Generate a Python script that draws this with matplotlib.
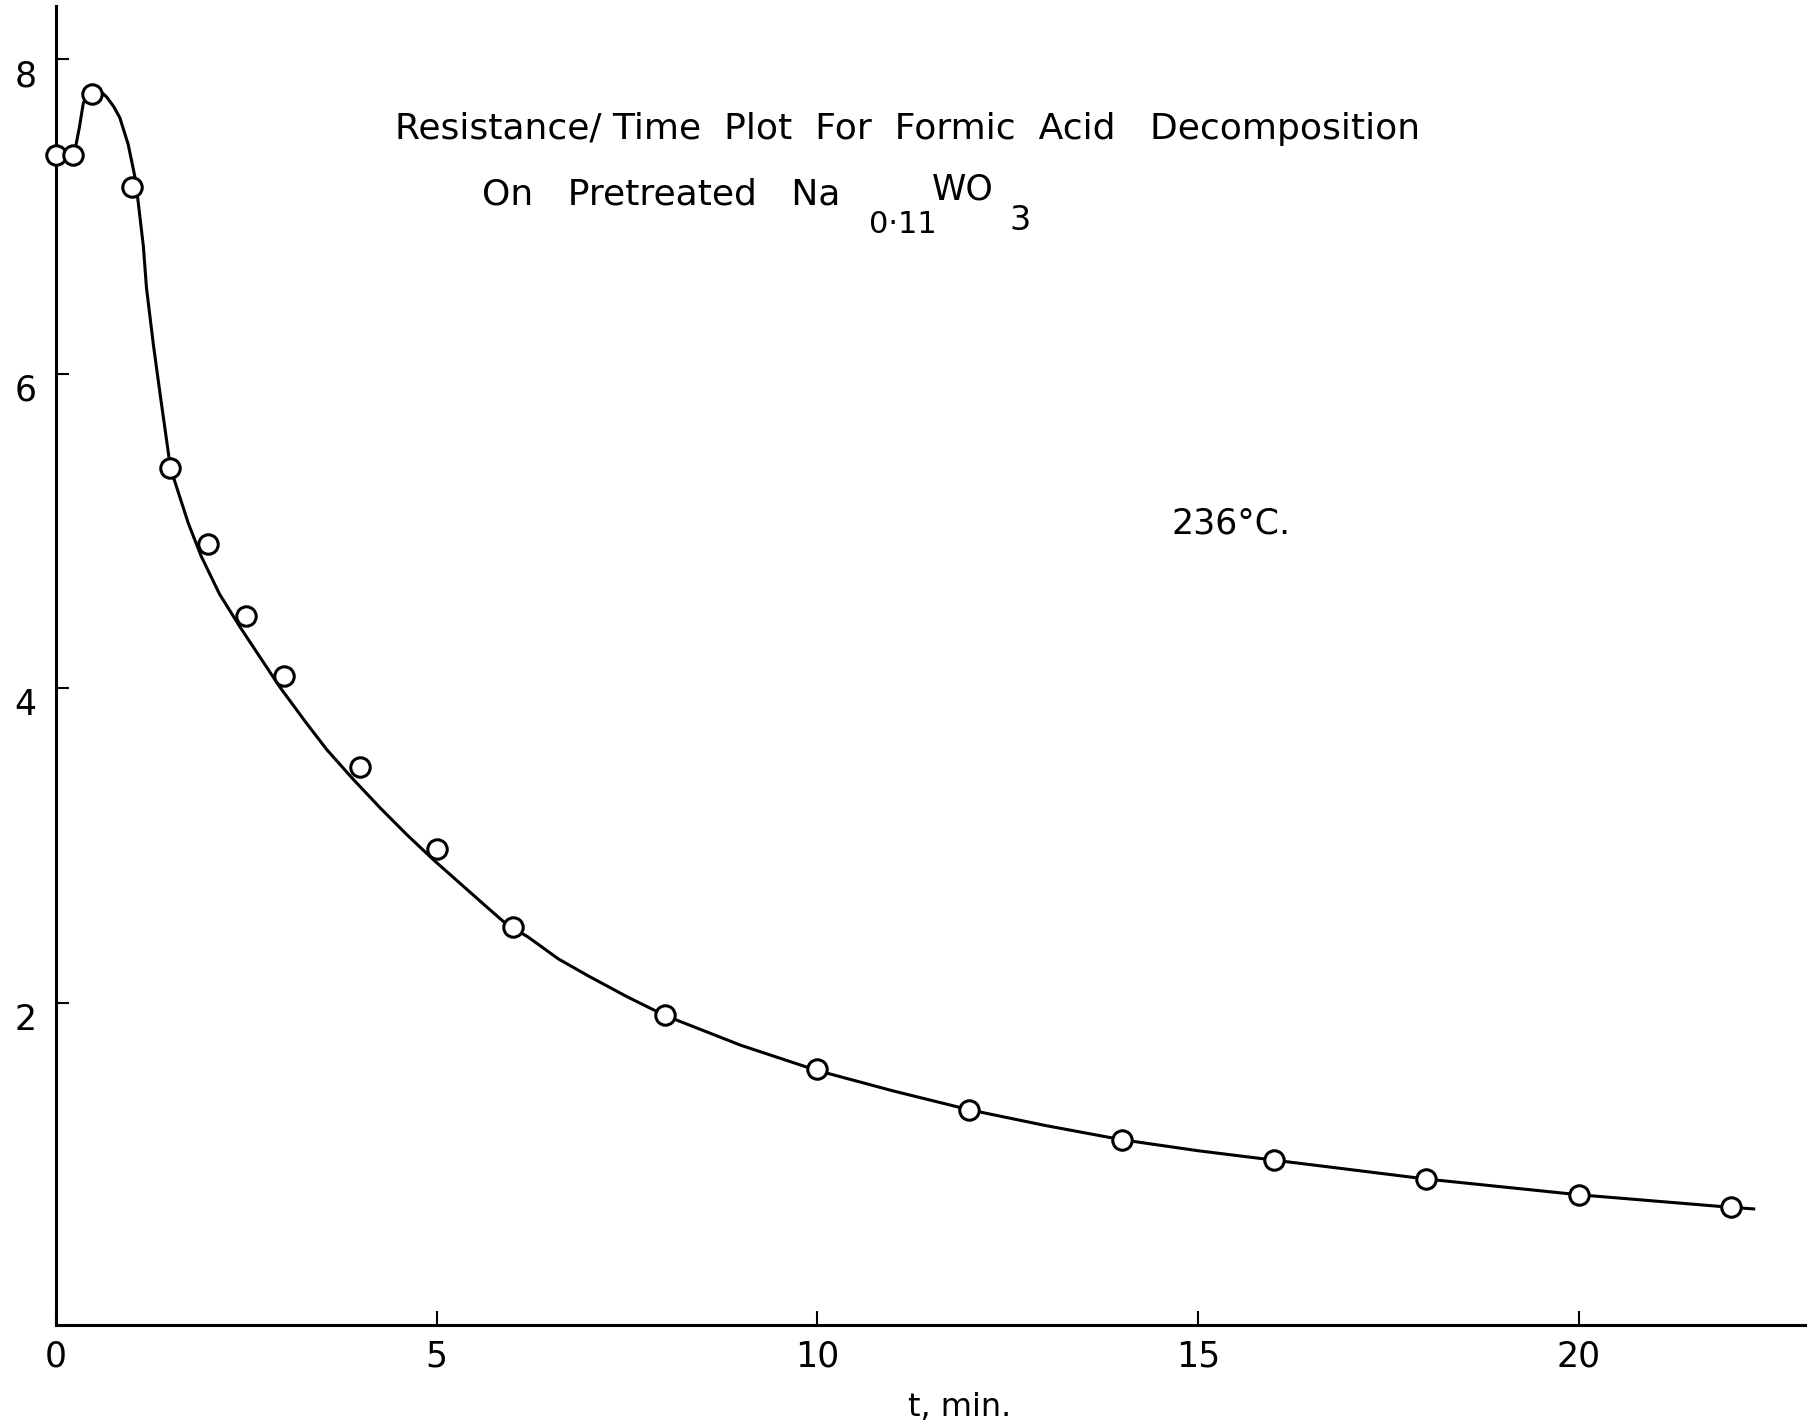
import matplotlib.pyplot as plt

plt.rcParams["font.family"] = ["DejaVu Sans"]

# measured resistance vs time (236 C)
t_min = [0, 0.22, 0.47, 1.0, 1.5, 2, 2.5, 3, 4, 5, 6, 8, 10, 12, 14, 16, 18, 20, 22]
resistance = [7.39, 7.39, 7.78, 7.19, 5.40, 4.92, 4.46, 4.08, 3.50, 2.98, 2.48,
              1.92, 1.58, 1.32, 1.13, 1.00, 0.88, 0.78, 0.70]

# hand-drawn smooth curve through the points
curve_t = [0.0, 0.22, 0.25, 0.31, 0.36, 0.45, 0.56, 0.67, 0.76, 0.84, 0.95, 1.04,
           1.08, 1.15, 1.19, 1.28, 1.37, 1.46, 1.50, 1.56, 1.74, 1.91, 2.15, 2.42,
           2.68, 2.94, 3.29, 3.56, 3.91, 4.26, 4.61, 4.96, 5.31, 5.66, 5.92, 6.2,
           6.6, 7.0, 7.5, 8.0, 9.0, 10.0, 11.0, 12.0, 13.0, 14.0, 15.0, 16.0, 17.0,
           18.0, 19.0, 20.0, 21.0, 22.0, 22.3]
curve_r = [7.39, 7.39, 7.42, 7.57, 7.72, 7.82, 7.81, 7.76, 7.70, 7.63, 7.46, 7.25,
           7.10, 6.81, 6.55, 6.19, 5.87, 5.56, 5.42, 5.32, 5.05, 4.84, 4.60, 4.39,
           4.20, 4.01, 3.78, 3.61, 3.42, 3.24, 3.07, 2.91, 2.76, 2.61, 2.50, 2.42,
           2.28, 2.17, 2.04, 1.92, 1.73, 1.57, 1.44, 1.32, 1.22, 1.13, 1.06, 1.00,
           0.94, 0.88, 0.83, 0.78, 0.74, 0.70, 0.69]

x_ticks = [0, 5, 10, 15, 20]
y_ticks = [2, 4, 6, 8]

fig = plt.figure(figsize=(18.07, 14.27), dpi=100)
ax = fig.add_axes([0.0309, 0.0713, 0.9691, 0.9245])

ax.plot(curve_t, curve_r, color="black", lw=2.2, zorder=2, clip_on=False)
ax.plot(t_min, resistance, "o", ms=14, mfc="white", mec="black", mew=2.2,
        zorder=3, clip_on=False)

ax.set_xlim(0, 23.0)
ax.set_ylim(-0.05, 8.34)

for side in ["top", "right"]:
    ax.spines[side].set_visible(False)
for side in ["left", "bottom"]:
    ax.spines[side].set_linewidth(2.2)

ax.set_xticks(x_ticks)
ax.set_yticks(y_ticks)
ax.tick_params(axis="x", direction="in", length=10, width=1.5, pad=10,
               labelsize=25)
ax.tick_params(axis="y", direction="in", length=9, width=1.5, pad=14,
               labelsize=25)
for lab in ax.get_yticklabels():
    lab.set_verticalalignment("top")

fig.text(0.502, 0.9096, "Resistance/ Time  Plot  For  Formic  Acid   Decomposition",
         ha="center", va="center", fontsize=26)
fig.text(0.2666, 0.8640, "On   Pretreated   Na", ha="left", va="center", fontsize=26)
fig.text(0.4810, 0.8425, "0·11", ha="left", va="center", fontsize=22)
fig.text(0.5155, 0.8670, "WO", ha="left", va="center", fontsize=25)
fig.text(0.5585, 0.8455, "3", ha="left", va="center", fontsize=24)

fig.text(0.6485, 0.633, "236°C.", ha="left", va="center", fontsize=25)

fig.text(0.531, 0.0135, "t, min.", ha="center", va="center", fontsize=23)

fig.savefig("out.png", dpi=100)
